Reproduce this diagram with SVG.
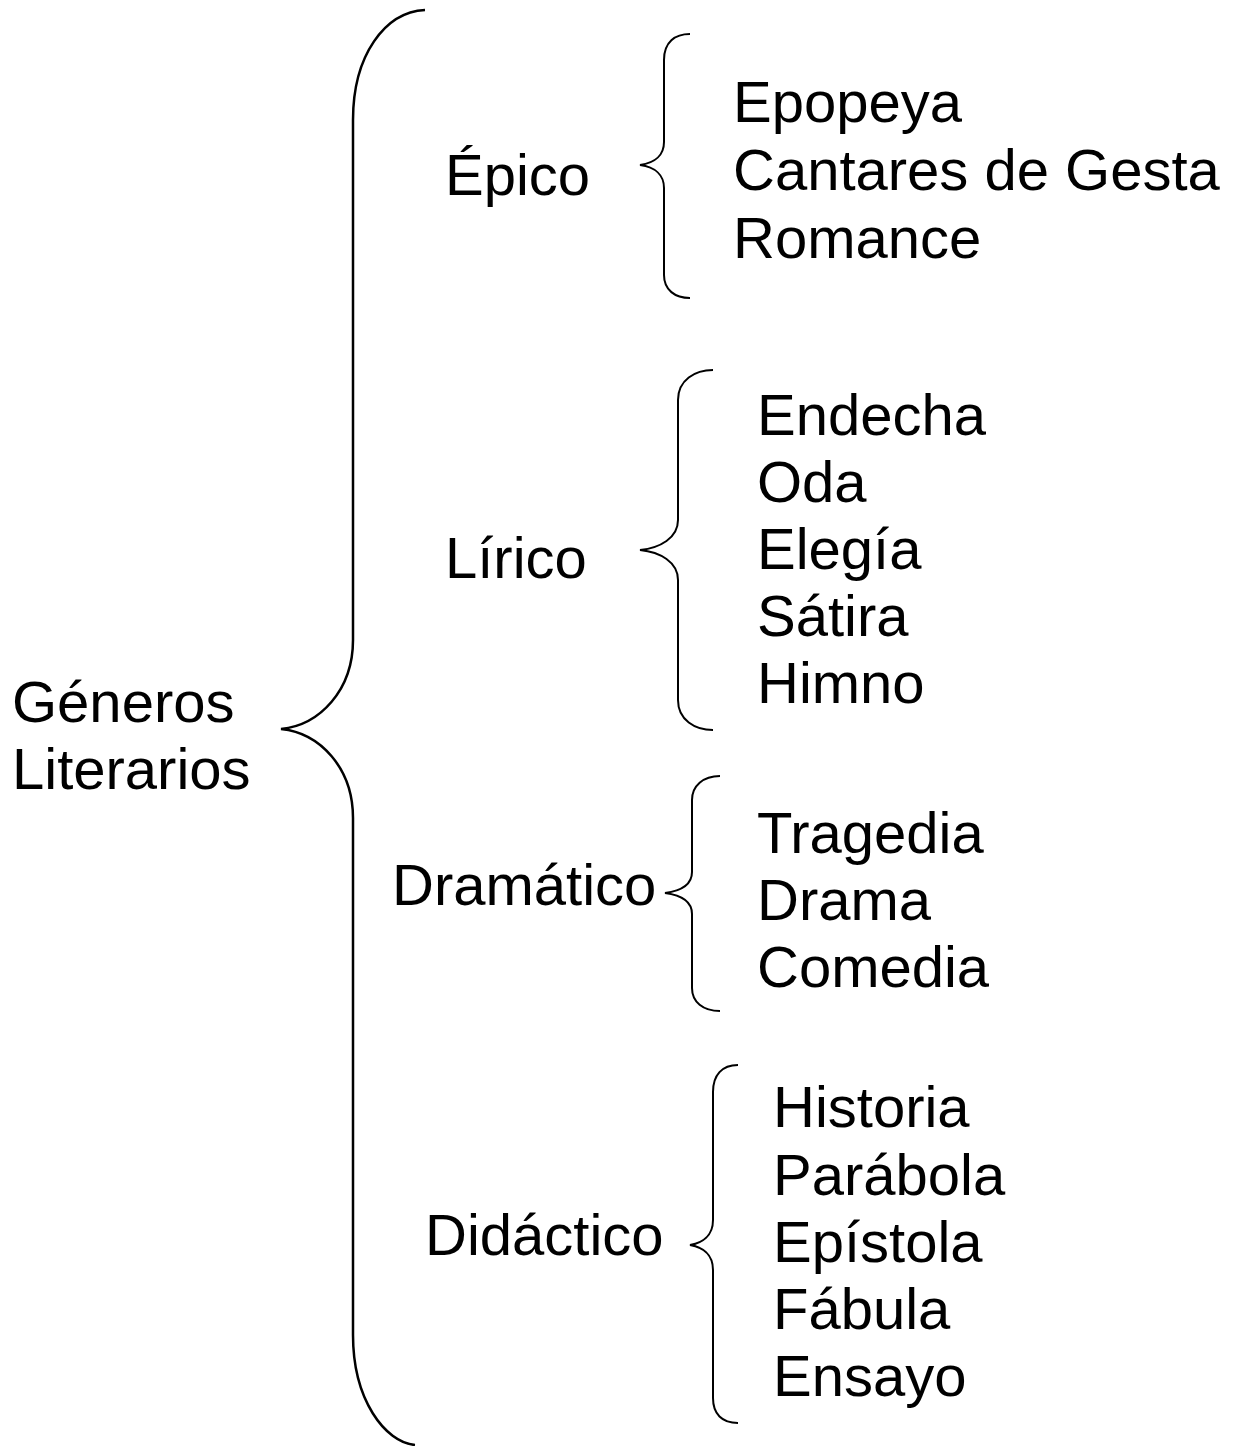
<svg xmlns="http://www.w3.org/2000/svg" width="1233" height="1446" viewBox="0 0 1233 1446">
<style>
text{font-family:"Liberation Sans",Arial,sans-serif;font-size:58px;fill:#000}
.br{fill:none;stroke:#000;stroke-width:2}
.big{stroke-width:2.5}
</style>
<rect width="1233" height="1446" fill="#fff"/>
<g id="connectors">
<path class="br big" d="M425,10 C385,12 353,55 353,120 L353,640 C353,690 320,725 281,729 C320,733 353,768 353,818 L353,1335 C353,1400 385,1442 415,1445"/>
<path class="br" d="M690,34 C675,34 664,42 664,60 L664,142 C664,155 655,163 640,165 C655,167 664,175 664,188 L664,275 C664,290 675,298 690,298"/>
<path class="br" d="M713,370 C695,370 678,380 678,400 L678,520 C678,538 660,548 640,550 C660,552 678,562 678,580 L678,700 C678,720 695,730 713,730"/>
<path class="br" d="M720,776 C703,776 692,786 692,800 L692,872 C692,885 680,891 665,893 C680,895 692,901 692,914 L692,988 C692,1002 703,1011 720,1011"/>
<path class="br" d="M738,1065 C722,1065 713,1075 713,1092 L713,1220 C713,1236 702,1243 690,1245 C702,1247 713,1254 713,1270 L713,1398 C713,1414 722,1423 738,1423"/>
</g>
<g id="root"><text x="12" y="722">Géneros</text><text x="12" y="789">Literarios</text></g>
<g id="epico"><text x="445" y="195">Épico</text></g>
<g id="lirico"><text x="445" y="578">Lírico</text></g>
<g id="dramatico"><text x="392" y="905">Dramático</text></g>
<g id="didactico"><text x="425" y="1255">Didáctico</text></g>
<g id="epico-items"><text x="733" y="122">Epopeya</text><text x="733" y="190">Cantares de Gesta</text><text x="733" y="258">Romance</text></g>
<g id="lirico-items"><text x="757" y="435">Endecha</text><text x="757" y="502">Oda</text><text x="757" y="569">Elegía</text><text x="757" y="636">Sátira</text><text x="757" y="703">Himno</text></g>
<g id="dramatico-items"><text x="757" y="853">Tragedia</text><text x="757" y="920">Drama</text><text x="757" y="987">Comedia</text></g>
<g id="didactico-items"><text x="773" y="1127">Historia</text><text x="773" y="1195">Parábola</text><text x="773" y="1262">Epístola</text><text x="773" y="1329">Fábula</text><text x="773" y="1396">Ensayo</text></g>
</svg>
